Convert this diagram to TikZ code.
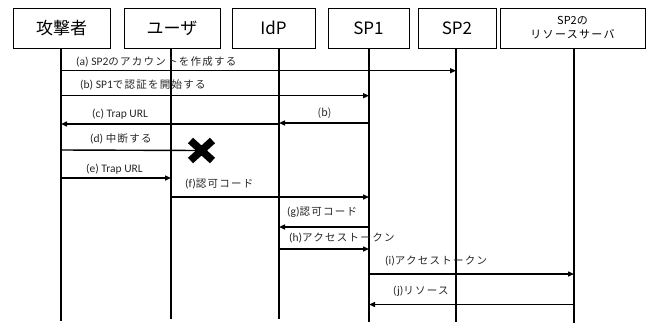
\documentclass[tikz,border=0pt]{standalone}
\usepackage{fontspec}
\setmainfont{Carlito}
\newfontfamily\jp{Noto Sans CJK JP}
\newfontfamily\jpl[LetterSpace=12]{Noto Sans CJK JP}
\usetikzlibrary{arrows.meta}
\newcommand{\jt}[1]{{\jpl\fontsize{10.5}{13}\selectfont #1}}
\begin{document}
\begin{tikzpicture}[x=1pt,y=-1pt,
  actor/.style={draw,line width=0.8pt,minimum height=40pt,inner sep=0pt,font=\jp\fontsize{17}{19}\selectfont},
  life/.style={line width=1.2pt},
  msg/.style={line width=1.4pt,-{Triangle[length=6pt,width=5pt]}},
  lbl/.style={anchor=west,inner sep=0pt,text=black!85,font=\fontsize{11.5}{13}\selectfont},
  smalllbl/.style={anchor=center,inner sep=0pt,text=black!85,font=\jp\fontsize{10.5}{12}\selectfont}]
\useasboundingbox (0,0) rectangle (652,325);
% actors
\node[actor,minimum width=97pt] (atk) at (61.5,28) {攻撃者};
\node[actor,minimum width=96pt] (usr) at (172,28) {ユーザ};
\node[actor,minimum width=83pt] (idp) at (273.5,28) {IdP};
\node[actor,minimum width=81pt] (sp1) at (368.5,28) {SP1};
\node[actor,minimum width=78pt] (sp2) at (457,28) {SP2};
\node[actor,minimum width=145pt,align=center,font=\jp\fontsize{11}{14}\selectfont] (rs) at (572.5,28) {SP2{\jpl の}\\{\jpl リソースサーバ}};
% lifelines
\coordinate (La) at (61,48);  \coordinate (Lae) at (61,321);
\coordinate (Lu) at (171,48); \coordinate (Lue) at (171,319);
\coordinate (Li) at (279,48); \coordinate (Lie) at (279,319);
\coordinate (Ls) at (369,48); \coordinate (Lse) at (369,322);
\coordinate (Lt) at (456,48); \coordinate (Lte) at (456,322);
\coordinate (Lr) at (574,48); \coordinate (Lre) at (574,323);
\foreach \a/\b in {La/Lae,Lu/Lue,Li/Lie,Ls/Lse,Lt/Lte,Lr/Lre}{\draw[life] (\a) -- (\b);}
% messages
\draw[msg] (La |- 0,70.7) -- (Lt |- 0,70.7);
\node[lbl] (la) at (76,62) {(a) SP2\jt{のアカウントを作成する}};
\draw[msg] (La |- 0,95.7) -- (Ls |- 0,95.7);
\node[lbl] (lb) at (80,85) {(b) SP1\jt{で認証を開始する}};
\draw[msg] (Li |- 0,124) -- (La |- 0,124);
\node[lbl] (lc) at (92,114) {(c) Trap URL};
\draw[msg] (Ls |- 0,123) -- (Li |- 0,123);
\node[smalllbl] (lb2) at (324.5,113) {(b)};
\coordinate (X) at (201.5,150.5);
\draw[line width=1.4pt] (La |- 0,150) -- (X);
\draw[line width=7.5pt] ([shift={(-11,-10)}]X) -- ([shift={(11,10)}]X) ([shift={(11,-10)}]X) -- ([shift={(-11,10)}]X);
\node[lbl] (ld) at (90,139) {(d) \jt{中断する}};
\draw[msg] (La |- 0,178) -- (Lu |- 0,178);
\node[lbl] (le) at (86,169) {(e) Trap URL};
\draw[msg] (Lu |- 0,197) -- (Ls |- 0,197);
\node[lbl] (lf) at (185,184) {(f)\jt{認可コード}};
\draw[msg] (Ls |- 0,227) -- (Li |- 0,227);
\node[lbl] (lg) at (287,212.5) {(g)\jt{認可コード}};
\draw[msg] (Li |- 0,249) -- (Ls |- 0,249);
\node[lbl] (lh) at (289,238) {(h)\jt{アクセストークン}};
\draw[msg] (Ls |- 0,274) -- (Lr |- 0,274);
\node[lbl] (li) at (385,261) {(i)\jt{アクセストークン}};
\draw[msg] (Lr |- 0,304.5) -- (Ls |- 0,304.5);
\node[lbl] (lj) at (393,291) {(j)\jt{リソース}};
\end{tikzpicture}
\end{document}
